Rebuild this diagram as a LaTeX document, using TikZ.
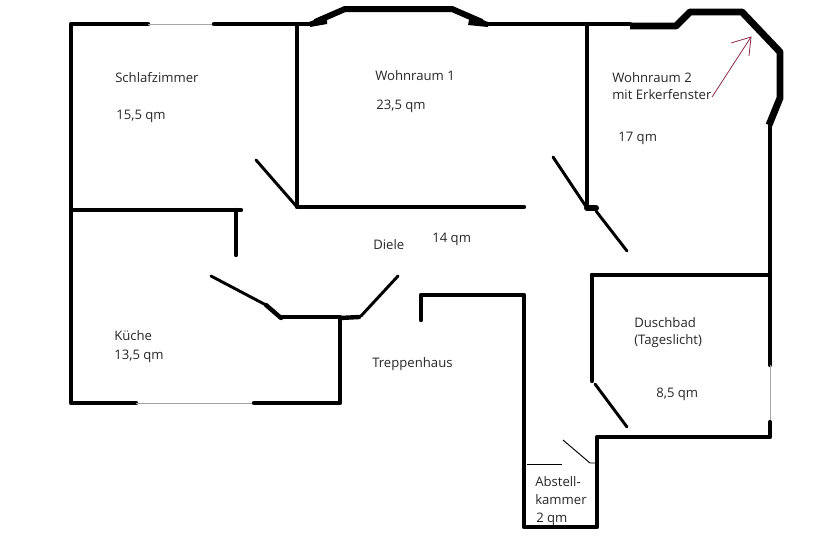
\documentclass[tikz,border=0pt]{standalone}
\usepackage{fontspec}
\setmainfont{Open Sans}
\definecolor{arrowred}{HTML}{8C2A4A}
\tikzset{
  wall/.style={line width=3.3pt,line cap=round,line join=round,black},
  heavy/.style={line width=5.2pt,line join=round,black},
  door/.style={line width=2.2pt,line cap=round,black},
  fine/.style={line width=0.7pt,black},
  win/.style={line width=0.6pt,gray!70},
  lab/.style={anchor=west,inner sep=0pt,font=\fontsize{9.85pt}{12pt}\selectfont,text=black!85,align=left},
  pointer/.style={line width=0.6pt,draw=arrowred}
}
\begin{document}
\begin{tikzpicture}[x=0.75pt,y=-0.75pt]
\useasboundingbox (0,0) rectangle (816,543);
% outer walls
\draw[wall] (148,24) -- (71,24) -- (71,403) -- (136,403);
\draw[win] (148,24) -- (214,24);
\draw[win] (136,403) -- (254,403);
\draw[wall] (214,24) -- (312,24);
\draw[wall] (254,403) -- (340,403) -- (340,317) -- (280,317);
\draw[line width=4.5pt,line join=round] (315,22) -- (345,9) -- (452,9) -- (482,22);
\fill (309,22) -- (327,15) -- (327,24) -- (310,27) -- cycle;
\fill (470,15) -- (488,22) -- (488,27) -- (468,25) -- cycle;
\draw[wall] (485,24) -- (630,24);
\draw[heavy] (630,26) -- (676,26) -- (690,12) -- (742,12) -- (780,52) -- (780,98) -- (769,125);
\draw[wall] (770,125) -- (770,365);
\draw[win] (770,365) -- (770,422);
\draw[wall] (770,422) -- (770,437) -- (597,437) -- (597,527) -- (524,527) -- (524,295) -- (421,295) -- (421,320);
% inner walls
\draw[wall] (297,24) -- (297,207) -- (524,207);
\draw[door] (297,207) -- (256,160);
\draw[wall] (587,24) -- (587,208);
\draw[door] (587,208) -- (553,157);
\draw[line width=4.5pt,line cap=round] (587,208) -- (596,208);
\draw[door] (596,211) -- (627,251);
\draw[wall] (71,210) -- (241,210);
\draw[wall] (236,210) -- (236,255);
\draw[door] (211,276) -- (266,305);
\draw[wall] (266,305) -- (281,318);
\draw[wall] (340,318) -- (359,317);
\draw[door] (361,316) -- (398,276);
\draw[wall] (592,275) -- (770,275);
\draw[wall] (592,275) -- (592,381);
\draw[door] (595,384) -- (627,427);
% store room door
\draw[fine] (527,464) -- (562,464);
\draw[fine] (563,440) -- (590,463) -- (598,463);
% arrow
\draw[pointer] (712,97) -- (751,37);
\draw[pointer] (731,43) -- (751,37) -- (749,56);
% labels
\node[lab] (a) at (115,78) {Schlafzimmer};
\node[lab] (b) at (116,116) {15,5 qm};
\node[lab] (c) at (375,76) {Wohnraum 1};
\node[lab] (d) at (376,106) {23,5 qm};
\node[lab] (e) at (612,78) {Wohnraum 2};
\node[lab] (f) at (612,95) {mit Erkerfenster};
\node[lab] (g) at (618,138) {17 qm};
\node[lab] (h) at (373,245) {Diele};
\node[lab] (i) at (432,239) {14 qm};
\node[lab] (j) at (114,336) {Küche};
\node[lab] (k) at (114,356) {13,5 qm};
\node[lab] (l) at (372,364) {Treppenhaus};
\node[lab] (m) at (634,323) {Duschbad};
\node[lab] (n) at (634,341) {(Tageslicht)};
\node[lab] (o) at (656,394) {8,5 qm};
\node[lab] (p) at (535,482) {Abstell-};
\node[lab] (q) at (535,500) {kammer};
\node[lab] (r) at (536,519) {2 qm};
\end{tikzpicture}
\end{document}
